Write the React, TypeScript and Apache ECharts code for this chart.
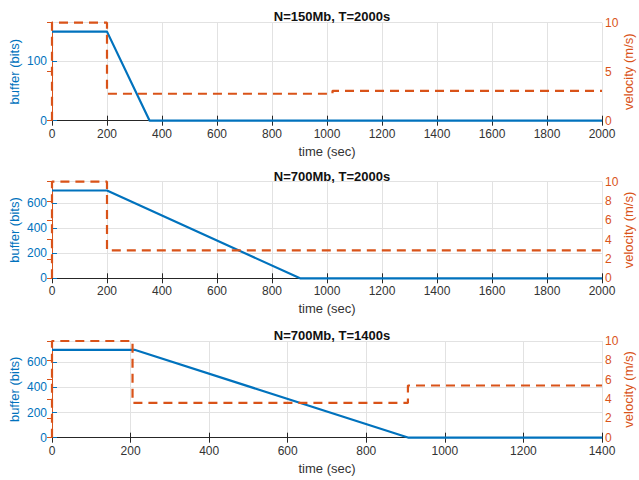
import React, { useEffect, useRef } from "react";
import * as echarts from "echarts";

// ---- data ----
const panelTitles = ["N=150Mb, T=2000s", "N=700Mb, T=2000s", "N=700Mb, T=1400s"];
const xMaxes = [2000, 2000, 1400];
const bufferMaxes = [165, 770, 770];
const bufferIntervals = [100, 200, 200];
const velocityIntervals = [5, 2, 2];

const p1BufferTime = [0, 200, 355, 2000];
const p1Buffer = [150, 150, 0, 0];
const p1VelTime = [0, 0, 200, 200, 1020, 1020, 2000];
const p1Vel = [0, 10, 10, 2.75, 2.75, 3.05, 3.05];

const p2BufferTime = [0, 200, 902, 2000];
const p2Buffer = [700, 700, 0, 0];
const p2VelTime = [0, 0, 200, 200, 2000];
const p2Vel = [0, 10, 10, 2.9, 2.9];

const p3BufferTime = [0, 210, 908, 1400];
const p3Buffer = [700, 700, 0, 0];
const p3VelTime = [0, 0, 205, 205, 906, 906, 1400];
const p3Vel = [0, 10, 10, 3.6, 3.6, 5.4, 5.4];

const bufferTimes = [p1BufferTime, p2BufferTime, p3BufferTime];
const bufferValues = [p1Buffer, p2Buffer, p3Buffer];
const velTimes = [p1VelTime, p2VelTime, p3VelTime];
const velValues = [p1Vel, p2Vel, p3Vel];

const BLUE = "#0072BD";
const ORANGE = "#D95319";
const DARK = "#262626";
const GRIDC = "#e2e2e2";
const FONT = "'Liberation Sans', Arial, sans-serif";

const zip = (a: number[], b: number[]) => a.map((t, i) => [t, b[i]]);
const plain = (v: number) => String(v);

export default function App() {
  const ref = useRef<HTMLDivElement>(null);
  useEffect(() => {
    if (!ref.current) return;
    const chart = echarts.init(ref.current, null, { renderer: "svg" });
    const tops = [22.7, 181.7, 341];
    const heights = [98, 96.6, 96.7];
    const titleTops = [5, 164.5, 323.5];

    const grids: any[] = [];
    const xAxes: any[] = [];
    const yAxes: any[] = [];
    const series: any[] = [];
    const titles: any[] = [];

    for (let i = 0; i < 3; i++) {
      grids.push({
        left: 52,
        width: 550,
        top: tops[i],
        height: heights[i],
        containLabel: false,
        outerBoundsMode: "none",
      });
      titles.push({
        text: panelTitles[i],
        left: 327,
        top: titleTops[i],
        textAlign: "center",
        textStyle: { fontFamily: FONT, fontSize: 13, fontWeight: "bold", color: "#111" },
      });
      xAxes.push({
        gridIndex: i,
        type: "value",
        position: "bottom",
        min: 0,
        max: xMaxes[i],
        interval: 200,
        axisLine: { lineStyle: { color: DARK, width: 1 } },
        axisTick: { inside: true, length: 5, lineStyle: { color: DARK } },
        axisLabel: { color: "#333", fontFamily: FONT, fontSize: 12, margin: 7, formatter: plain },
        splitLine: { show: true, lineStyle: { color: GRIDC, width: 1 } },
        name: "time (sec)",
        nameLocation: "middle",
        nameGap: 24,
        nameMoveOverlap: false,
        nameTextStyle: { color: "#333", fontFamily: FONT, fontSize: 13 },
      });
      xAxes.push({
        gridIndex: i,
        type: "value",
        position: "top",
        min: 0,
        max: xMaxes[i],
        interval: 200,
        axisLine: { lineStyle: { color: DARK, width: 1 } },
        axisTick: { inside: true, length: 5, lineStyle: { color: DARK } },
        axisLabel: { show: false },
        splitLine: { show: false },
      });
      yAxes.push({
        gridIndex: i,
        type: "value",
        position: "left",
        min: 0,
        max: bufferMaxes[i],
        interval: bufferIntervals[i],
        axisLine: { show: true, lineStyle: { color: BLUE, width: 1 } },
        axisTick: { show: true, inside: true, length: 5, lineStyle: { color: BLUE } },
        axisLabel: {
          color: BLUE,
          fontFamily: FONT,
          fontSize: 12,
          margin: 5,
          showMaxLabel: false,
          formatter: plain,
        },
        splitLine: { show: true, lineStyle: { color: GRIDC, width: 1 } },
        name: "buffer (bits)",
        nameLocation: "middle",
        nameGap: 31,
        nameMoveOverlap: false,
        nameTextStyle: { color: BLUE, fontFamily: FONT, fontSize: 13 },
      });
      yAxes.push({
        gridIndex: i,
        type: "value",
        position: "right",
        min: 0,
        max: 10,
        interval: velocityIntervals[i],
        axisLine: { show: true, lineStyle: { color: ORANGE, width: 1 } },
        axisTick: { show: true, inside: true, length: 5, lineStyle: { color: ORANGE } },
        axisLabel: { color: ORANGE, fontFamily: FONT, fontSize: 12, margin: 3, formatter: plain },
        splitLine: { show: false },
        name: "velocity (m/s)",
        nameLocation: "middle",
        nameGap: 20,
        nameMoveOverlap: false,
        nameTextStyle: { color: ORANGE, fontFamily: FONT, fontSize: 13 },
      });
      series.push({
        type: "line",
        xAxisIndex: 2 * i,
        yAxisIndex: 2 * i,
        data: zip(bufferTimes[i], bufferValues[i]),
        showSymbol: false,
        symbol: "none",
        clip: false,
        lineStyle: { color: BLUE, width: 2.2 },
        z: 2,
      });
      series.push({
        type: "line",
        xAxisIndex: 2 * i,
        yAxisIndex: 2 * i + 1,
        data: zip(velTimes[i], velValues[i]),
        showSymbol: false,
        symbol: "none",
        clip: false,
        lineStyle: { color: ORANGE, width: 2.2, type: [9, 6] },
        z: 3,
      });
    }

    chart.setOption({
      animation: false,
      backgroundColor: "#ffffff",
      title: titles,
      grid: grids,
      xAxis: xAxes,
      yAxis: yAxes,
      series,
    });
    return () => chart.dispose();
  }, []);
  return (
    <div
      ref={ref}
      style={{ position: "absolute", left: 0, top: 0, width: 639, height: 480 }}
    />
  );
}
